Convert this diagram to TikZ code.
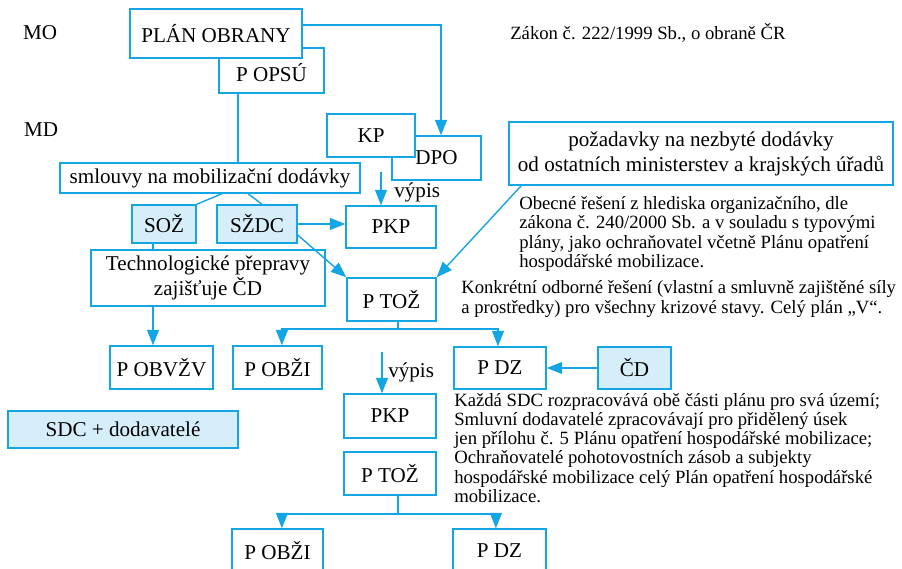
\documentclass[tikz,border=0pt]{standalone}
\usepackage{fontspec}
\setmainfont{Liberation Serif}
\usetikzlibrary{arrows.meta}

\definecolor{linecol}{RGB}{20,165,228}
\definecolor{fillcol}{RGB}{214,237,250}

\tikzset{
  planbox/.style={draw=linecol, line width=1pt, fill=white, inner sep=0pt,
    align=center, font=\fontsize{15}{17.8}\selectfont},
  bluebox/.style={planbox, fill=fillcol},
  conn/.style={draw=linecol, line width=1pt},
  arr/.style={conn, -{Triangle[length=11pt,width=8.5pt]}},
  note/.style={anchor=west, inner sep=0pt, align=left,
    font=\fontsize{13.3}{13.6}\selectfont},
  level/.style={inner sep=0pt, font=\fontsize{15}{17.8}\selectfont}
}

\begin{document}
\begin{tikzpicture}[x=0.025cm, y=-0.025cm]

    % Page frame (pixel units, y grows downwards)
    \useasboundingbox (0,0) rectangle (902,569);
    \clip (0,0) rectangle (902,569);

    % Levels
    \node[level] (mo) at (40,33) {MO};
    \node[level] (md) at (41,130) {MD};

    % Top row: defence plan
    \node[planbox, minimum width=2.625cm, minimum height=1.125cm] (opsu) at (271.5,70.5) {};
    \node[level] (opsutext) at (271.5,73) {P OPSÚ};
    \node[planbox, minimum width=4.3cm, minimum height=1.225cm] (plan) at (216,33.5) {PLÁN OBRANY};
    \node[note] (zakon) at (510,33) {Zákon č. 222/1999 Sb., o obraně ČR};

    % KP and DPO (KP lies over DPO)
    \node[planbox, minimum width=2.225cm, minimum height=1.1cm] (dpo) at (436.5,158) {DPO};
    \node[planbox, minimum width=2.2cm, minimum height=1.075cm] (kp) at (371,135.5) {KP};
    \node[planbox, minimum width=9.6cm, minimum height=1.575cm] (pozad) at (701,153.5)
      {požadavky na nezbyté dodávky\\od ostatních ministerstev a krajských úřadů};

    % Contracts
    \node[planbox, minimum width=7.5cm, minimum height=0.75cm] (smlouvy) at (210,178) {smlouvy na mobilizační dodávky};
    \node[bluebox, minimum width=1.6cm, minimum height=0.95cm] (soz) at (164,224) {SOŽ};
    \node[bluebox, minimum width=2cm, minimum height=0.95cm] (szdc) at (257,224) {SŽDC};
    \node[planbox, minimum width=2.25cm, minimum height=1.05cm] (pkpa) at (391,227) {PKP};
    \node[planbox, minimum width=5.85cm, minimum height=1.4cm] (tech) at (208,278)
      {Technologické přepravy\\zajišťuje ČD};
    \node[planbox, minimum width=2.225cm, minimum height=1.075cm] (toza) at (391.5,299.5) {P TOŽ};

    % Notes on the right
    \node[note] (obecne) at (519,234) {Obecné řešení z hlediska organizačního, dle\\
      zákona č. 240/2000 Sb. a v souladu s typovými\\
      plány, jako ochraňovatel včetně Plánu opatření\\
      hospodářské mobilizace.};
    \node[note] (konkretni) at (461,299) {Konkrétní odborné řešení (vlastní a smluvně zajištěné síly\\
      a prostředky) pro všechny krizové stavy. Celý plán „V“.};

    % Parts of the plan
    \node[planbox, minimum width=2.575cm, minimum height=1.075cm] (obvzv) at (161.5,367.5) {P OBVŽV};
    \node[planbox, minimum width=2.225cm, minimum height=1.075cm] (obzia) at (277.5,367.5) {P OBŽI};
    \node[planbox, minimum width=2.3cm, minimum height=1.05cm] (dza) at (500,368) {P DZ};
    \node[bluebox, minimum width=1.825cm, minimum height=1.05cm] (cd) at (634.5,368) {ČD};

    % Lower part: SDC and suppliers
    \node[bluebox, minimum width=5.75cm, minimum height=0.925cm] (sdc) at (123,429.5) {SDC + dodavatelé};
    \node[planbox, minimum width=2.3cm, minimum height=1.1cm] (pkpb) at (390,416) {PKP};
    \node[planbox, minimum width=2.3cm, minimum height=1.075cm] (tozb) at (390,473.5) {P TOŽ};
    \node[planbox, minimum width=2.275cm, minimum height=1.075cm] (obzib) at (277.5,550.5) {P OBŽI};
    \node[planbox, minimum width=2.325cm, minimum height=1.075cm] (dzb) at (499.5,550.5) {P DZ};
    \node[note] (kazda) at (454,448) {Každá SDC rozpracovává obě části plánu pro svá území;\\
      Smluvní dodavatelé zpracovávají pro přidělený úsek\\
      jen přílohu č. 5 Plánu opatření hospodářské mobilizace;\\
      Ochraňovatelé pohotovostních zásob a subjekty\\
      hospodářské mobilizace celý Plán opatření hospodářské\\
      mobilizace.};

    % Helper points
    \coordinate (c1) at (441,25);
    \coordinate (v1) at (381,172);
    \coordinate (v2) at (382,352);
    \coordinate (f1) at (398,329);
    \coordinate (f2) at (398,514);

    % Connectors at the top
    \draw[arr] (plan.east |- c1) -| (c1 |- dpo.north);
    \draw[conn] ([xshift=-0.8375cm]opsu.south) coordinate (o1) -- (o1 |- smlouvy.north);
    \draw[arr] (v1) -- (v1 |- pkpa.north) node[pos=0.62, right=9pt, level] {výpis};
    \draw[arr] ([xshift=0.325cm]pozad.south west) -- (toza.north east);

    % Contracts to carriers
    \draw[conn] ([xshift=0.3cm]smlouvy.south) -- (soz.north east);
    \draw[conn] ([xshift=0.95cm]smlouvy.south) -- ([xshift=0.125cm]szdc.north);
    \draw[arr] (szdc.east) -- (szdc.east -| pkpa.west);
    \draw[arr] ([yshift=-0.275cm]szdc.east) -- (toza.north west);
    \draw[conn] ([xshift=-0.275cm]soz.south) coordinate (s1) -- (s1 |- tech.north);
    \draw[arr] (s1 |- tech.south) -- (s1 |- obvzv.north);

    % First fork
    \draw[conn] (toza.south -| f1) -- (f1);
    \draw[arr] (f1) -| ([xshift=0.11cm]obzia.north);
    \draw[arr] (f1) -| ([xshift=-0.05cm]dza.north);
    \draw[arr] (cd.west) -- (dza.east);

    % Second branch
    \draw[arr] (v2) -- (v2 |- pkpb.north) node[midway, right=4pt, level] {výpis};
    \draw[conn] (tozb.south -| f2) -- (f2);
    \draw[arr] (f2) -| ([xshift=0.11cm]obzib.north);
    \draw[arr] (f2) -| ([xshift=-0.09cm]dzb.north);

\end{tikzpicture}
\end{document}
